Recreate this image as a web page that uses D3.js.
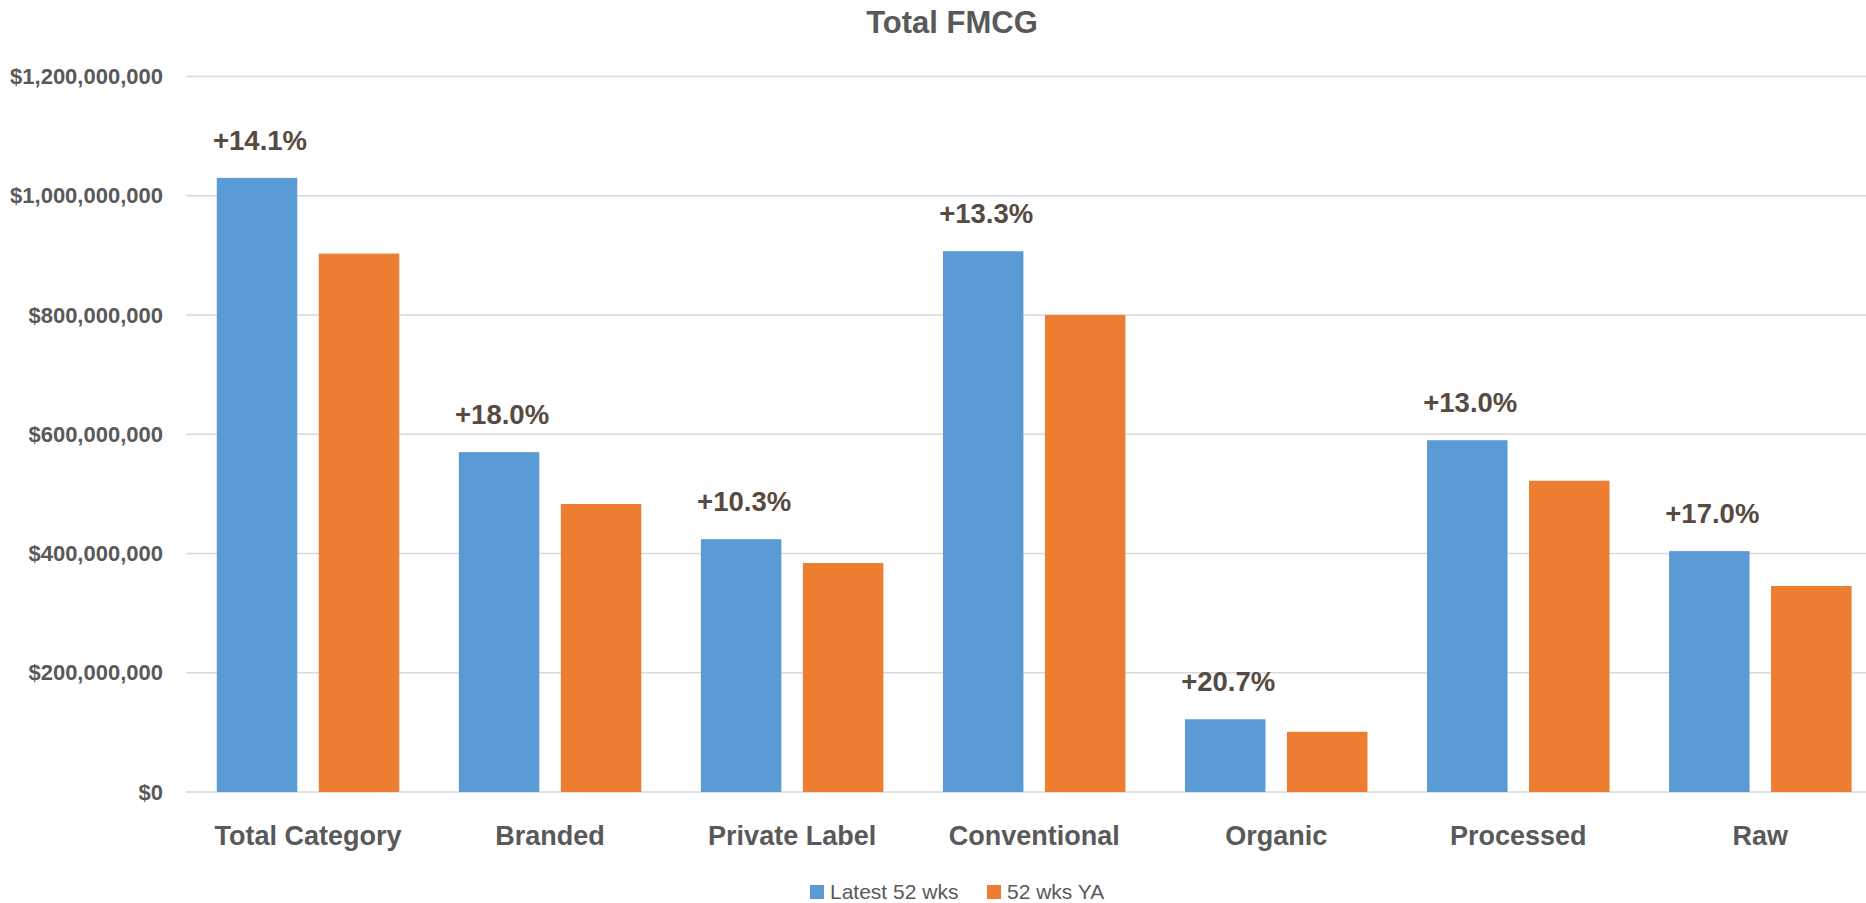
<!DOCTYPE html>
<html>
<head>
<meta charset="utf-8">
<script src="https://cdn.jsdelivr.net/npm/d3@7"></script>
<style>
  body { margin: 0; background: #fff; overflow: hidden; }
  text { font-family: "Liberation Sans", Arial, sans-serif; }
</style>
</head>
<body>
<svg id="chart" width="1866" height="903"></svg>
<script>
// chart data
var categories = ['Total Category', 'Branded', 'Private Label', 'Conventional', 'Organic', 'Processed', 'Raw'];
var seriesNames = ['Latest 52 wks', '52 wks YA'];
var latest = [1030e6, 570e6, 424e6, 907e6, 122e6, 590e6, 404e6];
var yearAgo = [903e6, 483e6, 384e6, 800e6, 101e6, 522e6, 345.5e6];
var changeLabels = ['+14.1%', '+18.0%', '+10.3%', '+13.3%', '+20.7%', '+13.0%', '+17.0%'];
var yTicks = [0, 200e6, 400e6, 600e6, 800e6, 1000e6, 1200e6];

var colors = ['#5b9bd5', '#ed7d31'];
var textGrey = '#595959';

var svg = d3.select('#chart');

// plot area runs a little past the right edge, like the original crop
var plotLeft = 187, plotTop = 76.5, plotBottom = 792;
var step = 242.05;

var x0 = d3.scaleBand()
    .domain(categories)
    .range([plotLeft, plotLeft + categories.length * step])
    .paddingInner(0.246)
    .paddingOuter(0.123);

var x1 = d3.scaleBand()
    .domain(seriesNames)
    .range([0, x0.bandwidth()])
    .paddingInner(0.211);

var y = d3.scaleLinear().domain([0, 1200e6]).range([plotBottom, plotTop]);

// title
svg.append('text')
    .attr('x', 952)
    .attr('y', 33)
    .attr('text-anchor', 'middle')
    .attr('font-size', 31)
    .attr('font-weight', 'bold')
    .attr('fill', textGrey)
    .text('Total FMCG');

// gridlines
svg.append('g')
    .selectAll('line')
    .data(yTicks)
    .join('line')
    .attr('x1', plotLeft - 1)
    .attr('x2', 1866)
    .attr('y1', function (d) { return y(d); })
    .attr('y2', function (d) { return y(d); })
    .attr('stroke', '#d9d9d9')
    .attr('stroke-width', 1.6);

// y axis labels
var yAxis = d3.axisLeft(y)
    .tickValues(yTicks)
    .tickFormat(d3.format('$,'))
    .tickSize(0)
    .tickPadding(0);

svg.append('g')
    .attr('transform', 'translate(163,0)')
    .call(yAxis)
    .call(function (g) {
        g.select('.domain').remove();
        g.selectAll('text')
            .attr('font-size', 22)
            .attr('font-weight', 'bold')
            .attr('fill', textGrey)
            .attr('font-family', '"Liberation Sans", Arial, sans-serif');
    });

// bars
var rows = categories.map(function (c, i) {
    return { cat: c, values: [latest[i], yearAgo[i]], label: changeLabels[i] };
});

var groups = svg.append('g')
    .selectAll('g')
    .data(rows)
    .join('g')
    .attr('transform', function (d) { return 'translate(' + x0(d.cat) + ',0)'; });

groups.selectAll('rect')
    .data(function (d) { return d.values.map(function (v, j) { return { name: seriesNames[j], value: v, j: j }; }); })
    .join('rect')
    .attr('x', function (d) { return x1(d.name); })
    .attr('width', x1.bandwidth())
    .attr('y', function (d) { return y(d.value); })
    .attr('height', function (d) { return y(0) - y(d.value); })
    .attr('fill', function (d) { return colors[d.j]; });

// growth labels above the blue bar
groups.append('text')
    .attr('x', x1(seriesNames[0]) + x1.bandwidth() / 2 + 3)
    .attr('y', function (d) { return y(d.values[0]) - 28; })
    .attr('text-anchor', 'middle')
    .attr('font-size', 27.5)
    .attr('font-weight', 'bold')
    .attr('fill', '#574a41')
    .text(function (d) { return d.label; });

// x axis labels
var xAxis = d3.axisBottom(x0).tickSize(0).tickPadding(0);

svg.append('g')
    .attr('transform', 'translate(0,' + plotBottom + ')')
    .call(xAxis)
    .call(function (g) {
        g.select('.domain').remove();
        g.selectAll('text')
            .attr('dy', null)
            .attr('y', 53)
            .attr('font-size', 27)
            .attr('font-weight', 'bold')
            .attr('fill', textGrey)
            .attr('font-family', '"Liberation Sans", Arial, sans-serif');
    });

// legend
var legendX = [810, 987];
var legend = svg.append('g')
    .selectAll('g')
    .data(seriesNames)
    .join('g')
    .attr('transform', function (d, i) { return 'translate(' + legendX[i] + ',885)'; });

legend.append('rect')
    .attr('width', 14)
    .attr('height', 14)
    .attr('fill', function (d, i) { return colors[i]; });

legend.append('text')
    .attr('x', 20)
    .attr('y', 14)
    .attr('font-size', 21)
    .attr('fill', textGrey)
    .text(function (d) { return d; });
</script>
</body>
</html>
